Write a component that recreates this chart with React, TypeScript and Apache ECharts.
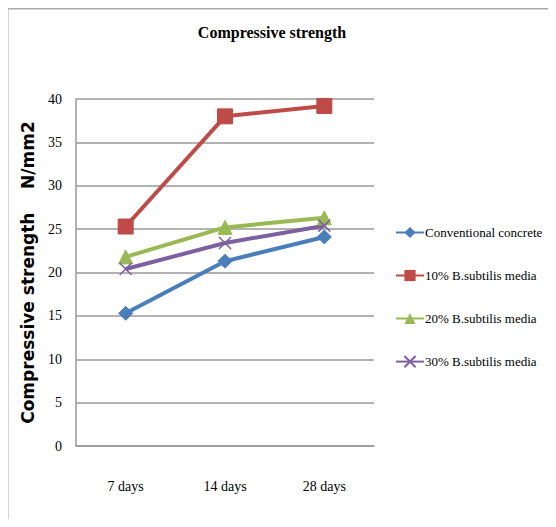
import React, { useEffect, useRef } from "react";
import * as echarts from "echarts";

const categories = ["7 days", "14 days", "28 days"];
const conventional = [15.3, 21.3, 24.1];
const bs10 = [25.3, 38.0, 39.2];
const bs20 = [21.8, 25.2, 26.3];
const bs30 = [20.4, 23.4, 25.4];
const seriesNames = [
  "Conventional concrete",
  "10% B.subtilis media",
  "20% B.subtilis media",
  "30% B.subtilis media",
];
const colors = ["#4A7EBB", "#BE4B48", "#98B954", "#7D60A0"];

const xSymbol = "path://M0,0 L2,2 M2,0 L0,2";

export default function App() {
  const ref = useRef<HTMLDivElement>(null);
  useEffect(() => {
    if (!ref.current) return;
    const chart = echarts.init(ref.current, null, { renderer: "svg" });
    const font = "'Liberation Serif', 'Times New Roman', serif";
    const mk = (name: string, data: number[], color: string, symbol: string, size: number, extra: any = {}) => ({
      name,
      type: "line",
      data,
      symbol,
      symbolSize: size,
      lineStyle: { color, width: 4 },
      itemStyle: { color, borderColor: color, ...extra },
      emphasis: { disabled: true },
    });
    chart.setOption({
      animation: false,
      backgroundColor: "#ffffff",
      title: {
        text: "Compressive strength",
        left: 267,
        top: 19,
        textAlign: "center",
        textStyle: { fontFamily: font, fontSize: 16, fontWeight: "bold", color: "#000" },
      },
      grid: { left: 76, top: 99, right: 182, bottom: 81, containLabel: false },
      xAxis: {
        type: "category",
        data: categories,
        boundaryGap: true,
        axisLine: { show: true, lineStyle: { color: "#999", width: 1.5 } },
        axisTick: { show: false },
        axisLabel: { fontFamily: font, fontSize: 14, color: "#000", margin: 33 },
      },
      yAxis: {
        type: "value",
        min: 0,
        max: 40,
        interval: 5,
        name: "Compressive strength    N/mm2",
        nameLocation: "middle",
        nameRotate: 90,
        nameGap: 40,
        nameTextStyle: { fontFamily: "'DejaVu Sans', sans-serif", fontSize: 17, fontWeight: "bold", color: "#000" },
        axisLine: { show: true, lineStyle: { color: "#999", width: 1.5 } },
        axisTick: { show: false },
        splitLine: { show: true, lineStyle: { color: "#999", width: 1.5 } },
        axisLabel: { fontFamily: font, fontSize: 14, color: "#000", margin: 14 },
      },
      legend: {
        orient: "vertical",
        left: 390,
        top: 221,
        itemWidth: 28,
        itemHeight: 14,
        itemGap: 30,
        textStyle: { fontFamily: font, fontSize: 13, color: "#000", padding: [0, 0, 0, -4] },
        data: seriesNames,
      },
      graphic: [
        { type: "line", shape: { x1: 7.5, y1: 8.5, x2: 556, y2: 8.5 }, style: { stroke: "#aaa", lineWidth: 2 } },
        { type: "line", shape: { x1: 7.5, y1: 8.5, x2: 7.5, y2: 527 }, style: { stroke: "#aaa", lineWidth: 2 } },
      ],
      series: [
        mk(seriesNames[0], conventional, colors[0], "diamond", 14),
        mk(seriesNames[1], bs10, colors[1], "rect", 15),
        mk(seriesNames[2], bs20, colors[2], "triangle", 14),
        mk(seriesNames[3], bs30, colors[3], xSymbol, 12, { borderWidth: 1.5 }),
      ],
    });
    return () => chart.dispose();
  }, []);
  return <div ref={ref} style={{ width: 556, height: 527, margin: -8 }} />;
}
